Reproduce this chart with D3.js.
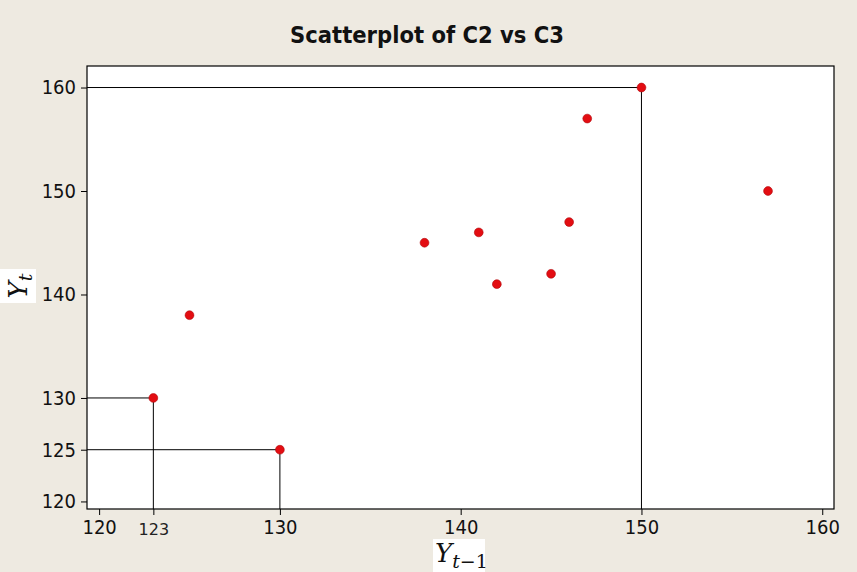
<!DOCTYPE html>
<html>
<head>
<meta charset="utf-8">
<script src="https://cdn.jsdelivr.net/npm/d3@7"></script>
<style>
  body { margin: 0; background: #eeeae1; }
  svg { display: block; }
</style>
</head>
<body>
<svg id="chart"></svg>
<script>
// data: C3 is Y(t-1), C2 is Y(t)
var c3 = [123, 125, 130, 138, 141, 142, 145, 146, 147, 150, 157];
var c2 = [130, 138, 125, 145, 146, 141, 142, 147, 157, 160, 150];
var xTicks = [120, 123, 130, 140, 150, 160];
var yTicks = [120, 125, 130, 140, 150, 160];
// points that get drop lines to the axes
var marked = [[123, 130], [130, 125], [150, 160]];

var width = 857,
    height = 572,
    margin = {top: 66, right: 23, bottom: 63, left: 87};

var svg = d3.select("#chart")
    .attr("width", width)
    .attr("height", height);

svg.append("rect")
    .attr("width", width)
    .attr("height", height)
    .attr("fill", "#eeeae1");

let x = d3.scaleLinear()
    .domain([119.33, 160.65])
    .range([margin.left, width - margin.right]);

let y = d3.scaleLinear()
    .domain([119.27, 162.08])
    .range([height - margin.bottom, margin.top]);

// plot area
svg.append("rect")
    .attr("x", margin.left)
    .attr("y", margin.top)
    .attr("width", width - margin.left - margin.right)
    .attr("height", height - margin.top - margin.bottom)
    .attr("fill", "white")
    .attr("stroke", "black")
    .attr("stroke-width", 1.2);

let font = "'DejaVu Sans Condensed', 'DejaVu Sans', sans-serif";

let xAxis = svg.append("g")
    .attr("transform", `translate(0, ${height - margin.bottom})`)
    .call(d3.axisBottom(x).tickValues(xTicks).tickSize(6).tickPadding(5).tickSizeOuter(0).tickFormat(d3.format("d")));

let yAxis = svg.append("g")
    .attr("transform", `translate(${margin.left}, 0)`)
    .call(d3.axisLeft(y).tickValues(yTicks).tickSize(6).tickPadding(5).tickSizeOuter(0).tickFormat(d3.format("d")));

[xAxis, yAxis].forEach(g => {
    g.select(".domain").remove();
    g.selectAll("line").attr("stroke", "black");
    g.selectAll("text")
        .attr("fill", "#111")
        .style("font-family", font)
        .style("font-size", "20px");
});

// the 123 label is drawn lighter in the original
xAxis.selectAll(".tick")
    .filter(d => d === 123)
    .select("text")
    .attr("fill", "#222")
    .style("font-family", "'DejaVu Sans', sans-serif")
    .style("font-size", "16px")
    .attr("dy", "0.95em");

// drop lines
let lines = svg.append("g")
    .attr("stroke", "black")
    .attr("stroke-width", 1);

lines.selectAll(".hline")
    .data(marked)
    .join("line")
    .attr("x1", margin.left)
    .attr("x2", d => x(d[0]))
    .attr("y1", d => y(d[1]))
    .attr("y2", d => y(d[1]));

lines.selectAll(".vline")
    .data(marked)
    .join("line")
    .attr("x1", d => x(d[0]))
    .attr("x2", d => x(d[0]))
    .attr("y1", d => y(d[1]))
    .attr("y2", height - margin.bottom);

// points
svg.append("g")
    .selectAll("circle")
    .data(c3.map((v, i) => [v, c2[i]]))
    .join("circle")
    .attr("cx", d => x(d[0]))
    .attr("cy", d => y(d[1]))
    .attr("r", 4.4)
    .attr("fill", "#e30d12")
    .attr("stroke", "#b0080c")
    .attr("stroke-width", 0.6);

// title
svg.append("text")
    .attr("x", 427)
    .attr("y", 43)
    .attr("text-anchor", "middle")
    .style("font-family", font)
    .style("font-weight", "bold")
    .style("font-size", "23.5px")
    .attr("fill", "#111")
    .text("Scatterplot of C2 vs C3");

// y axis title
let yl = svg.append("g")
    .attr("transform", "translate(18, 286) rotate(-90)");
yl.append("rect")
    .attr("x", -17)
    .attr("y", -18)
    .attr("width", 34)
    .attr("height", 36)
    .attr("fill", "white");
let ylt = yl.append("text")
    .attr("text-anchor", "middle")
    .attr("y", 9)
    .style("font-family", "'DejaVu Serif', serif")
    .style("font-style", "italic")
    .style("font-size", "26px")
    .attr("fill", "#111");
ylt.append("tspan").text("Y");
ylt.append("tspan").attr("dy", 5).style("font-size", "19px").text("t");

// x axis title
svg.append("rect")
    .attr("x", 433)
    .attr("y", 539)
    .attr("width", 52)
    .attr("height", 33)
    .attr("fill", "white");
let xlt = svg.append("text")
    .attr("x", 435)
    .attr("y", 562)
    .style("font-family", "'DejaVu Serif', serif")
    .style("font-style", "italic")
    .style("font-size", "26px")
    .attr("fill", "#111");
xlt.append("tspan").text("Y");
xlt.append("tspan").attr("dy", 6).style("font-size", "19px").text("t");
xlt.append("tspan").style("font-size", "19px").style("font-style", "normal").text("\u22121");
</script>
</body>
</html>
